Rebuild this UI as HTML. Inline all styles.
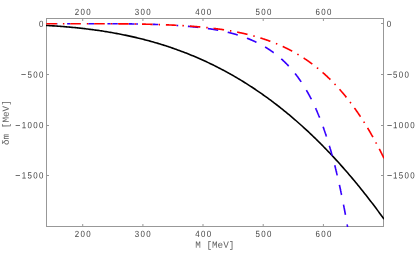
<!DOCTYPE html>
<html><head><meta charset="utf-8"><title>plot</title>
<style>
html,body{margin:0;padding:0;background:#fff;}
body{width:416px;height:257px;overflow:hidden;}
svg{display:block;}
text{font-family:"Liberation Sans",sans-serif;font-size:9px;fill:#464646;}
text.m{font-family:"Liberation Mono",monospace;font-size:9.33px;fill:#626262;}
</style></head><body>
<svg width="416" height="257" viewBox="0 0 416 257">

<g fill="#989898">
<rect x="82.20" y="19" width="1" height="2"/>
<rect x="82.20" y="224" width="1" height="2"/>
<rect x="142.40" y="19" width="1" height="2"/>
<rect x="142.40" y="224" width="1" height="2"/>
<rect x="202.50" y="19" width="1" height="2"/>
<rect x="202.50" y="224" width="1" height="2"/>
<rect x="262.70" y="19" width="1" height="2"/>
<rect x="262.70" y="224" width="1" height="2"/>
<rect x="322.90" y="19" width="1" height="2"/>
<rect x="322.90" y="224" width="1" height="2"/>
<rect x="47" y="23" width="2" height="1"/>
<rect x="381" y="23" width="2" height="1"/>
<rect x="47" y="74" width="2" height="1"/>
<rect x="381" y="74" width="2" height="1"/>
<rect x="47" y="125" width="2" height="1"/>
<rect x="381" y="125" width="2" height="1"/>
<rect x="47" y="175" width="2" height="1"/>
<rect x="381" y="175" width="2" height="1"/>
</g>
<g fill="#989898" shape-rendering="crispEdges">
<rect x="46" y="18" width="338" height="1"/>
<rect x="46" y="226" width="338" height="1"/>
<rect x="46" y="18" width="1" height="209"/>
<rect x="383" y="18" width="1" height="209"/>
</g>
<defs><filter id="gf" filterUnits="userSpaceOnUse" x="0" y="0" width="416" height="257"><feOffset dx="0" dy="0"/></filter><clipPath id="c"><rect x="46" y="18" width="338" height="209"/></clipPath></defs>
<g clip-path="url(#c)" fill="none">
<path d="M46.00 25.43 L47.13 25.49 L48.26 25.56 L49.39 25.62 L50.52 25.69 L51.65 25.76 L52.78 25.83 L53.91 25.90 L55.04 25.98 L56.17 26.06 L57.30 26.14 L58.43 26.22 L59.57 26.30 L60.70 26.38 L61.83 26.47 L62.96 26.56 L64.09 26.65 L65.22 26.74 L66.35 26.84 L67.48 26.93 L68.61 27.03 L69.74 27.13 L70.87 27.24 L72.00 27.34 L73.13 27.45 L74.26 27.56 L75.39 27.67 L76.52 27.78 L77.65 27.90 L78.78 28.02 L79.91 28.14 L81.04 28.26 L82.17 28.39 L83.30 28.52 L84.43 28.65 L85.57 28.78 L86.70 28.92 L87.83 29.05 L88.96 29.19 L90.09 29.34 L91.22 29.48 L92.35 29.63 L93.48 29.78 L94.61 29.93 L95.74 30.09 L96.87 30.25 L98.00 30.41 L99.13 30.57 L100.26 30.74 L101.39 30.91 L102.52 31.08 L103.65 31.26 L104.78 31.44 L105.91 31.62 L107.04 31.80 L108.17 31.99 L109.30 32.18 L110.43 32.37 L111.57 32.56 L112.70 32.76 L113.83 32.96 L114.96 33.17 L116.09 33.37 L117.22 33.59 L118.35 33.80 L119.48 34.02 L120.61 34.24 L121.74 34.46 L122.87 34.68 L124.00 34.91 L125.13 35.15 L126.26 35.38 L127.39 35.62 L128.52 35.86 L129.65 36.11 L130.78 36.36 L131.91 36.61 L133.04 36.87 L134.17 37.13 L135.30 37.39 L136.43 37.65 L137.57 37.92 L138.70 38.20 L139.83 38.47 L140.96 38.75 L142.09 39.04 L143.22 39.32 L144.35 39.61 L145.48 39.91 L146.61 40.21 L147.74 40.51 L148.87 40.81 L150.00 41.12 L151.13 41.44 L152.26 41.75 L153.39 42.07 L154.52 42.40 L155.65 42.73 L156.78 43.06 L157.91 43.39 L159.04 43.73 L160.17 44.08 L161.30 44.43 L162.43 44.78 L163.57 45.13 L164.70 45.49 L165.83 45.86 L166.96 46.22 L168.09 46.60 L169.22 46.97 L170.35 47.35 L171.48 47.74 L172.61 48.13 L173.74 48.52 L174.87 48.91 L176.00 49.32 L177.13 49.72 L178.26 50.13 L179.39 50.54 L180.52 50.96 L181.65 51.39 L182.78 51.81 L183.91 52.24 L185.04 52.68 L186.17 53.12 L187.30 53.57 L188.43 54.01 L189.57 54.47 L190.70 54.93 L191.83 55.39 L192.96 55.86 L194.09 56.33 L195.22 56.81 L196.35 57.29 L197.48 57.77 L198.61 58.26 L199.74 58.76 L200.87 59.26 L202.00 59.76 L203.13 60.27 L204.26 60.79 L205.39 61.31 L206.52 61.83 L207.65 62.36 L208.78 62.90 L209.91 63.43 L211.04 63.98 L212.17 64.53 L213.30 65.08 L214.43 65.64 L215.57 66.20 L216.70 66.77 L217.83 67.35 L218.96 67.92 L220.09 68.51 L221.22 69.10 L222.35 69.69 L223.48 70.29 L224.61 70.90 L225.74 71.51 L226.87 72.12 L228.00 72.74 L229.13 73.37 L230.26 74.00 L231.39 74.64 L232.52 75.28 L233.65 75.93 L234.78 76.58 L235.91 77.24 L237.04 77.90 L238.17 78.57 L239.30 79.25 L240.43 79.93 L241.57 80.61 L242.70 81.30 L243.83 82.00 L244.96 82.70 L246.09 83.41 L247.22 84.12 L248.35 84.84 L249.48 85.57 L250.61 86.30 L251.74 87.04 L252.87 87.78 L254.00 88.53 L255.13 89.28 L256.26 90.04 L257.39 90.81 L258.52 91.58 L259.65 92.36 L260.78 93.14 L261.91 93.93 L263.04 94.73 L264.17 95.53 L265.30 96.34 L266.43 97.15 L267.57 97.97 L268.70 98.79 L269.83 99.63 L270.96 100.46 L272.09 101.31 L273.22 102.16 L274.35 103.02 L275.48 103.88 L276.61 104.75 L277.74 105.62 L278.87 106.50 L280.00 107.39 L281.13 108.29 L282.26 109.19 L283.39 110.09 L284.52 111.01 L285.65 111.93 L286.78 112.85 L287.91 113.79 L289.04 114.73 L290.17 115.67 L291.30 116.62 L292.43 117.58 L293.57 118.55 L294.70 119.52 L295.83 120.50 L296.96 121.48 L298.09 122.48 L299.22 123.48 L300.35 124.48 L301.48 125.49 L302.61 126.51 L303.74 127.54 L304.87 128.57 L306.00 129.61 L307.13 130.66 L308.26 131.71 L309.39 132.77 L310.52 133.84 L311.65 134.91 L312.78 135.99 L313.91 137.08 L315.04 138.17 L316.17 139.28 L317.30 140.39 L318.43 141.50 L319.57 142.63 L320.70 143.76 L321.83 144.89 L322.96 146.04 L324.09 147.19 L325.22 148.35 L326.35 149.52 L327.48 150.69 L328.61 151.87 L329.74 153.06 L330.87 154.25 L332.00 155.46 L333.13 156.67 L334.26 157.88 L335.39 159.11 L336.52 160.34 L337.65 161.58 L338.78 162.83 L339.91 164.09 L341.04 165.35 L342.17 166.62 L343.30 167.90 L344.43 169.18 L345.57 170.47 L346.70 171.77 L347.83 173.08 L348.96 174.40 L350.09 175.72 L351.22 177.05 L352.35 178.39 L353.48 179.74 L354.61 181.09 L355.74 182.46 L356.87 183.83 L358.00 185.21 L359.13 186.59 L360.26 187.99 L361.39 189.39 L362.52 190.80 L363.65 192.22 L364.78 193.64 L365.91 195.08 L367.04 196.52 L368.17 197.97 L369.30 199.43 L370.43 200.89 L371.57 202.37 L372.70 203.85 L373.83 205.34 L374.96 206.84 L376.09 208.35 L377.22 209.86 L378.35 211.39 L379.48 212.92 L380.61 214.46 L381.74 216.01 L382.87 217.57 L384.00 219.13" stroke="#000" stroke-width="1.6"/>
<path d="M56.95 23.75 L57.17 23.75 L57.40 23.75 M67.14 23.74 L67.45 23.74 L67.76 23.74 L68.08 23.73 L68.39 23.73 L68.70 23.73 L69.01 23.73 L69.32 23.73 L69.64 23.73 L69.95 23.73 L70.26 23.73 M88.30 23.70 L88.63 23.70 L88.95 23.70 L89.28 23.70 L89.60 23.70 L89.93 23.70 L90.26 23.70 L90.58 23.70 L90.91 23.70 L91.23 23.70 L91.56 23.70 L91.89 23.70 L92.21 23.70 L92.54 23.70 L92.87 23.70 L93.19 23.70 L93.52 23.70 L93.84 23.70 L94.17 23.70 M107.42 23.73 L107.75 23.73 L108.08 23.73 L108.41 23.73 L108.74 23.73 L109.06 23.74 L109.39 23.74 L109.72 23.74 L110.05 23.74 L110.38 23.74 L110.71 23.74 M112.21 23.75 L112.54 23.75 L112.87 23.76 L113.20 23.76 L113.53 23.76 L113.86 23.76 L114.19 23.76 L114.52 23.77 L114.85 23.77 L115.18 23.77 L115.51 23.77 L115.84 23.77 L116.17 23.78 L116.50 23.78 L116.83 23.78 L117.16 23.78 L117.49 23.79 L117.82 23.79 M128.68 23.90 L129.01 23.90 L129.34 23.91 L129.67 23.91 L130.00 23.91 L130.33 23.92 L130.66 23.92 L130.99 23.93 L131.32 23.93 L131.65 23.94 L131.98 23.94 L132.31 23.95 L132.64 23.95 L132.97 23.96 L133.30 23.96 L133.63 23.97 L133.96 23.97 L134.29 23.98 L134.62 23.98 M136.12 24.00 L136.43 24.01 L136.73 24.02 L137.04 24.02 L137.34 24.03 L137.65 24.03 L137.96 24.04 M152.58 24.36 L152.91 24.37 L153.23 24.38 L153.56 24.39 L153.88 24.40 L154.20 24.41 L154.53 24.42 L154.85 24.43 L155.18 24.44 L155.50 24.45 L155.82 24.46 L156.15 24.47 L156.47 24.48 L156.80 24.49 L157.12 24.50 L157.44 24.51 L157.77 24.52 L158.09 24.53 M176.48 25.47 L176.76 25.49 L177.05 25.51 L177.34 25.53 L177.63 25.55 L177.92 25.57 L178.20 25.59 M187.91 26.34 L188.24 26.37 L188.56 26.40 L188.89 26.42 L189.21 26.45 L189.53 26.48 L189.86 26.51 L190.18 26.54 L190.50 26.57 L190.83 26.60 L191.15 26.63 L191.47 26.66 L191.80 26.69 L192.12 26.72 L192.45 26.75 L192.77 26.78 L193.09 26.81 L193.42 26.84 L193.74 26.87 L194.06 26.90 L194.39 26.94 L194.71 26.97 L195.03 27.00 L195.36 27.03 L195.68 27.07 L196.00 27.10 L196.33 27.13 L196.65 27.17 L196.97 27.20 L197.30 27.24 L197.62 27.27 L197.94 27.31 L198.26 27.34 M207.93 28.56 L208.25 28.60 L208.57 28.65 L208.89 28.70 L209.22 28.74 L209.54 28.79 L209.86 28.84 L210.18 28.89 L210.50 28.94 L210.82 28.99 L211.14 29.03 L211.46 29.08 L211.79 29.14 L212.11 29.19 L212.43 29.24 L212.75 29.29 L213.07 29.34 L213.39 29.39 L213.71 29.45 L214.03 29.50 L214.35 29.55 L214.67 29.61 L214.99 29.66 L215.31 29.72 L215.63 29.77 L215.95 29.83 L216.27 29.89 L216.59 29.94 L216.91 30.00 L217.23 30.06 L217.55 30.12 L217.87 30.18 L218.19 30.23 M227.72 32.25 L228.04 32.33 L228.35 32.40 L228.67 32.48 L228.98 32.56 L229.30 32.64 L229.61 32.71 L229.93 32.79 L230.24 32.87 L230.56 32.95 L230.87 33.04 L231.19 33.12 L231.50 33.20 L231.82 33.28 L232.13 33.37 L232.44 33.45 L232.76 33.54 L233.07 33.62 L233.38 33.71 L233.70 33.79 L234.01 33.88 L234.32 33.97 L234.64 34.06 L234.95 34.15 L235.26 34.24 L235.57 34.33 L235.89 34.42 L236.20 34.51 L236.51 34.60 L236.82 34.70 L237.13 34.79 L237.44 34.89 L237.75 34.98 M246.95 38.17 L247.26 38.29 L247.56 38.40 L247.86 38.52 L248.16 38.64 L248.47 38.76 L248.77 38.88 L249.07 39.01 L249.37 39.13 L249.67 39.25 L249.97 39.38 L250.27 39.50 L250.57 39.63 L250.87 39.76 L251.17 39.88 L251.47 40.01 L251.77 40.14 L252.06 40.27 L252.36 40.40 L252.66 40.53 L252.95 40.67 L253.25 40.80 L253.55 40.93 L253.84 41.07 L254.14 41.20 L254.43 41.34 L254.73 41.48 L255.02 41.62 L255.32 41.75 L255.61 41.89 L255.90 42.03 L256.20 42.18 L256.49 42.32 M265.05 46.95 L265.33 47.12 L265.61 47.29 L265.89 47.46 L266.16 47.63 L266.44 47.80 L266.72 47.97 L266.99 48.14 L267.27 48.31 L267.54 48.49 L267.81 48.66 L268.09 48.84 L268.36 49.01 L268.63 49.19 L268.91 49.37 L269.18 49.55 L269.45 49.73 L269.72 49.91 L269.99 50.09 L270.26 50.27 L270.53 50.45 L270.79 50.64 L271.06 50.82 L271.33 51.01 L271.59 51.19 L271.86 51.38 L272.13 51.57 L272.39 51.76 L272.65 51.95 L272.92 52.14 L273.18 52.33 L273.44 52.52 L273.70 52.71 M281.27 58.84 L281.51 59.06 L281.75 59.28 L282.00 59.49 L282.24 59.71 L282.48 59.93 L282.72 60.15 L282.95 60.37 L283.19 60.59 L283.43 60.81 L283.67 61.04 L283.90 61.26 L284.14 61.48 L284.37 61.71 L284.61 61.93 L284.84 62.16 L285.07 62.39 L285.31 62.61 L285.54 62.84 L285.77 63.07 L286.00 63.30 L286.23 63.53 L286.46 63.76 L286.69 63.99 L286.91 64.22 L287.14 64.46 L287.37 64.69 L287.59 64.92 L287.82 65.16 L288.04 65.39 L288.26 65.63 L288.49 65.87 L288.71 66.10 M295.06 73.49 L295.26 73.74 L295.46 74.00 L295.66 74.25 L295.86 74.51 L296.06 74.77 L296.26 75.02 L296.46 75.28 L296.65 75.54 L296.85 75.80 L297.04 76.06 L297.24 76.32 L297.43 76.58 L297.63 76.84 L297.82 77.10 L298.01 77.36 L298.21 77.63 L298.40 77.89 L298.59 78.15 L298.78 78.42 L298.97 78.68 L299.16 78.95 L299.34 79.21 L299.53 79.48 L299.72 79.74 L299.90 80.01 L300.09 80.27 L300.27 80.54 L300.46 80.81 L300.64 81.08 L300.83 81.35 L301.01 81.62 L301.19 81.88 M306.36 90.13 L306.53 90.41 L306.69 90.70 L306.85 90.98 L307.02 91.26 L307.18 91.54 L307.34 91.82 L307.50 92.11 L307.66 92.39 L307.82 92.67 L307.98 92.96 L308.14 93.24 L308.29 93.52 L308.45 93.81 L308.61 94.09 L308.76 94.38 L308.92 94.66 L309.08 94.95 L309.23 95.23 L309.38 95.52 L309.54 95.81 L309.69 96.09 L309.84 96.38 L310.00 96.67 L310.15 96.95 L310.30 97.24 L310.45 97.53 L310.60 97.82 L310.75 98.11 L310.90 98.40 L311.05 98.68 L311.20 98.97 L311.34 99.26 M315.55 108.05 L315.68 108.34 L315.82 108.64 L315.95 108.94 L316.08 109.23 L316.21 109.53 L316.35 109.83 L316.48 110.12 L316.61 110.42 L316.74 110.72 L316.87 111.02 L317.00 111.32 L317.13 111.61 L317.25 111.91 L317.38 112.21 L317.51 112.51 L317.64 112.81 L317.76 113.11 L317.89 113.41 L318.02 113.71 L318.14 114.01 L318.27 114.31 L318.39 114.61 L318.52 114.91 L318.64 115.21 L318.77 115.51 L318.89 115.81 L319.01 116.11 L319.14 116.41 L319.26 116.71 L319.38 117.01 L319.50 117.31 L319.62 117.62 M323.09 126.72 L323.20 127.02 L323.31 127.33 L323.42 127.63 L323.53 127.94 L323.64 128.25 L323.75 128.55 L323.86 128.86 L323.97 129.16 L324.08 129.47 L324.18 129.78 L324.29 130.08 L324.40 130.39 L324.50 130.70 L324.61 131.01 L324.72 131.31 L324.82 131.62 L324.93 131.93 L325.03 132.23 L325.14 132.54 L325.24 132.85 L325.35 133.16 L325.45 133.47 L325.56 133.77 L325.66 134.08 L325.76 134.39 L325.87 134.70 L325.97 135.01 L326.07 135.31 L326.17 135.62 L326.28 135.93 L326.38 136.24 L326.48 136.55 M329.39 145.84 L329.49 146.15 L329.58 146.47 L329.67 146.78 L329.76 147.09 L329.86 147.40 L329.95 147.71 L330.04 148.02 L330.13 148.33 L330.22 148.65 L330.32 148.96 L330.41 149.27 L330.50 149.58 L330.59 149.89 L330.68 150.21 L330.77 150.52 L330.86 150.83 L330.95 151.14 L331.04 151.46 L331.13 151.77 L331.22 152.08 L331.30 152.39 L331.39 152.71 L331.48 153.02 L331.57 153.33 L331.66 153.65 L331.74 153.96 L331.83 154.27 L331.92 154.58 L332.01 154.90 L332.09 155.21 L332.18 155.52 L332.27 155.84 M334.76 165.25 L334.84 165.57 L334.92 165.88 L335.00 166.20 L335.08 166.51 L335.16 166.83 L335.24 167.14 L335.32 167.46 L335.40 167.77 L335.48 168.09 L335.56 168.40 L335.63 168.72 L335.71 169.03 L335.79 169.35 L335.87 169.67 L335.95 169.98 L336.02 170.30 L336.10 170.61 L336.18 170.93 L336.26 171.24 L336.33 171.56 L336.41 171.88 L336.49 172.19 L336.56 172.51 L336.64 172.82 L336.71 173.14 L336.79 173.46 L336.87 173.77 L336.94 174.09 L337.02 174.40 L337.09 174.72 L337.17 175.04 L337.24 175.35 M339.41 184.85 L339.48 185.16 L339.55 185.48 L339.62 185.80 L339.69 186.12 L339.76 186.43 L339.83 186.75 L339.90 187.07 L339.97 187.39 L340.04 187.70 L340.11 188.02 L340.18 188.34 L340.25 188.66 L340.32 188.97 L340.38 189.29 L340.45 189.61 L340.52 189.93 L340.59 190.25 L340.66 190.56 L340.72 190.88 L340.79 191.20 L340.86 191.52 L340.93 191.84 L340.99 192.15 L341.06 192.47 L341.13 192.79 L341.19 193.11 L341.26 193.43 L341.33 193.74 L341.39 194.06 L341.46 194.38 L341.52 194.70 L341.59 195.02 M343.51 204.57 L343.57 204.88 L343.63 205.20 L343.70 205.52 L343.76 205.84 L343.82 206.16 L343.88 206.48 L343.94 206.80 L344.00 207.12 L344.06 207.44 L344.13 207.76 L344.19 208.08 L344.25 208.39 L344.31 208.71 L344.37 209.03 L344.43 209.35 L344.49 209.67 L344.55 209.99 L344.61 210.31 L344.67 210.63 L344.73 210.95 L344.79 211.27 L344.85 211.59 L344.91 211.91 L344.97 212.23 L345.03 212.55 L345.09 212.87 L345.15 213.19 L345.21 213.51 L345.27 213.83 L345.33 214.14 L345.38 214.46 L345.44 214.78 M347.16 224.37 L347.21 224.69 L347.27 225.01 L347.33 225.33 L347.38 225.65 L347.44 225.97 L347.49 226.29 L347.55 226.61 L347.60 226.93 L347.66 227.25 L347.71 227.57 L347.77 227.89 L347.82 228.21 L347.88 228.54 L347.93 228.86 L347.99 229.18 L348.04 229.50 L348.09 229.82 L348.15 230.14 L348.20 230.46 L348.26 230.78 L348.31 231.10 L348.36 231.42 L348.42 231.74 L348.47 232.06 L348.53 232.38 L348.58 232.70 L348.63 233.02 L348.69 233.34 L348.74 233.66 L348.79 233.98 L348.84 234.30 L348.90 234.63 M350.45 244.24 L350.50 244.56 L350.55 244.88 L350.60 245.20 L350.65 245.53 L350.70 245.85 L350.75 246.17 L350.80 246.49 L350.85 246.81 L350.90 247.13 L350.95 247.45 L351.00 247.77 L351.05 248.09 L351.10 248.42 L351.15 248.74 L351.20 249.06 L351.25 249.38 L351.30 249.70 L351.34 250.02 L351.39 250.34 L351.44 250.66 L351.49 250.99 L351.54 251.31 L351.59 251.63 L351.64 251.95 L351.69 252.27 L351.74 252.59 L351.78 252.91 L351.83 253.23 L351.88 253.56 L351.93 253.88 L351.98 254.20 L352.03 254.52 M353.44 264.16 L353.48 264.48 L353.53 264.80 L353.58 265.12 L353.62 265.44 L353.67 265.77 L353.71 266.09 L353.76 266.41 L353.81 266.73 L353.85 267.05 L353.90 267.38 L353.94 267.70 L353.99 268.02 L354.03 268.34 L354.08 268.66 L354.12 268.98 L354.17 269.31 L354.21 269.63 L354.26 269.95 L354.30 270.27 L354.35 270.59 L354.39 270.92 L354.44 271.24 L354.48 271.56 L354.53 271.88 L354.57 272.20 L354.62 272.53 L354.66 272.85 L354.71 273.17 L354.75 273.49 L354.79 273.81 L354.84 274.13 L354.88 274.46 M356.18 284.11 L356.22 284.43 L356.26 284.75 L356.31 285.08 L356.35 285.40 L356.39 285.72 L356.43 286.04 L356.48 286.37 L356.52 286.69 L356.56 287.01 L356.60 287.33 L356.64 287.65 L356.69 287.98 L356.73 288.30 L356.77 288.62 L356.81 288.94 L356.85 289.27 L356.89 289.59 L356.93 289.91 L356.98 290.23 L357.02 290.56 L357.06 290.88 L357.10 291.20 L357.14 291.52 L357.18 291.85 L357.22 292.17 L357.27 292.49 L357.31 292.81 L357.35 293.13 L357.39 293.46 L357.43 293.78 L357.47 294.10 L357.51 294.42 M358.71 304.09 L358.75 304.41 L358.79 304.74 L358.83 305.06 L358.87 305.38 L358.91 305.70 L358.94 306.03 L358.98 306.35 L359.02 306.67 L359.06 306.99 L359.10 307.32 L359.14 307.64 L359.18 307.96 L359.22 308.28 L359.25 308.61 L359.29 308.93 L359.33 309.25 L359.37 309.58 L359.41 309.90 L359.45 310.22 L359.49 310.54 L359.52 310.87 L359.56 311.19 L359.60 311.51 L359.64 311.83 L359.68 312.16 L359.72 312.48 L359.75 312.80 L359.79 313.13 L359.83 313.45 L359.87 313.77 L359.91 314.09 L359.94 314.42 M361.06 324.09 L361.09 324.42 L361.13 324.74 L361.17 325.06 L361.20 325.38 L361.24 325.71 L361.28 326.03 L361.31 326.35 L361.35 326.68 L361.39 327.00 L361.42 327.32 L361.46 327.65 L361.49 327.97 L361.53 328.29 L361.57 328.61 L361.60 328.94 L361.64 329.26 L361.67 329.58 L361.71 329.91 L361.75 330.23 L361.78 330.55 L361.82 330.88 L361.85 331.20 L361.89 331.52 L361.92 331.84 L361.96 332.17 L361.99 332.49 L362.03 332.81 L362.07 333.14 L362.10 333.46 L362.14 333.78 L362.17 334.11 L362.21 334.43 M363.25 344.11 L363.28 344.44 L363.32 344.76 L363.35 345.08 L363.38 345.41 L363.42 345.73 L363.45 346.05 L363.49 346.38 L363.52 346.70 L363.55 347.02 L363.59 347.35 L363.62 347.67 L363.66 347.99 L363.69 348.32 L363.72 348.64 L363.76 348.96 L363.79 349.29 L363.82 349.61 L363.86 349.93 L363.89 350.25 L363.93 350.58 L363.96 350.90 L363.99 351.22 L364.03 351.55 L364.06 351.87 L364.09 352.19 L364.13 352.52 L364.16 352.84 L364.19 353.16 L364.23 353.49 L364.26 353.81 L364.29 354.13 L364.32 354.46 M365.30 364.15 L365.33 364.47 L365.37 364.80 L365.40 365.12 L365.43 365.44 L365.46 365.77 L365.49 366.09 L365.53 366.41 L365.56 366.74 L365.59 367.06 L365.62 367.38 L365.65 367.71 L365.68 368.03 L365.72 368.35 L365.75 368.68 L365.78 369.00 L365.81 369.32 L365.84 369.65 L365.87 369.97 L365.91 370.29 L365.94 370.62 L365.97 370.94 L366.00 371.26 L366.03 371.59 L366.06 371.91 L366.09 372.23 L366.13 372.56 L366.16 372.88 L366.19 373.21 L366.22 373.53 L366.25 373.85 L366.28 374.18 L366.31 374.50 M367.23 384.20 L367.26 384.52 L367.29 384.84 L367.32 385.17 L367.35 385.49 L367.38 385.81 L367.41 386.14 L367.44 386.46 L367.47 386.78 L367.50 387.11 L367.53 387.43 L367.56 387.76 L367.59 388.08 L367.62 388.40 L367.65 388.73 L367.68 389.05 L367.71 389.37 L367.74 389.70 L367.77 390.02 L367.80 390.34 L367.83 390.67 L367.86 390.99 L367.89 391.32 L367.92 391.64 L367.95 391.96 L367.98 392.29 L368.01 392.61 L368.04 392.93 L368.07 393.26 L368.10 393.58 L368.13 393.90 L368.16 394.23 L368.19 394.55 M369.06 404.25 L369.09 404.58 L369.12 404.90 L369.14 405.22 L369.17 405.55 L369.20 405.87 L369.23 406.20 L369.26 406.52 L369.29 406.84 L369.31 407.17 L369.34 407.49 L369.37 407.81 L369.40 408.14 L369.43 408.46 L369.46 408.79 L369.48 409.11 L369.51 409.43 L369.54 409.76 L369.57 410.08 L369.60 410.40 L369.63 410.73 L369.65 411.05 L369.68 411.38 L369.71 411.70 L369.74 412.02 L369.77 412.35 L369.79 412.67 L369.82 412.99 L369.85 413.32 L369.88 413.64 L369.91 413.97 L369.93 414.29 L369.96 414.61 M370.79 424.32 L370.81 424.64 L370.84 424.97 L370.87 425.29 L370.89 425.61 L370.92 425.94 L370.95 426.26 L370.98 426.59 L371.00 426.91 L371.03 427.23 L371.06 427.56 L371.08 427.88 L371.11 428.20 L371.14 428.53 L371.16 428.85 L371.19 429.18 L371.22 429.50 L371.24 429.82 L371.27 430.15 L371.30 430.47 L371.32 430.80 L371.35 431.12 L371.38 431.44 L371.40 431.77 L371.43 432.09 L371.46 432.42 L371.48 432.74 L371.51 433.06 L371.54 433.39 L371.56 433.71 L371.59 434.04 L371.62 434.36 L371.64 434.68 M372.43 444.39 L372.45 444.72 L372.48 445.04 L372.51 445.36 L372.53 445.69 L372.56 446.01 L372.58 446.34 L372.61 446.66 L372.63 446.98 L372.66 447.31 L372.69 447.63 L372.71 447.96 L372.74 448.28 L372.76 448.60 L372.79 448.93 L372.81 449.25 L372.84 449.58 L372.86 449.90 L372.89 450.22 L372.92 450.55 L372.94 450.87 L372.97 451.20 L372.99 451.52 L373.02 451.84 L373.04 452.17 L373.07 452.49 L373.09 452.82 L373.12 453.14 L373.14 453.46 L373.17 453.79 L373.19 454.11 L373.22 454.44 L373.24 454.76 M373.99 464.47 L374.02 464.79 L374.04 465.12 L374.07 465.44 L374.09 465.77 L374.11 466.09 L374.14 466.42 L374.16 466.74 L374.19 467.06 L374.21 467.39 L374.24 467.71 L374.26 468.04 L374.29 468.36 L374.31 468.68 L374.33 469.01 L374.36 469.33 L374.38 469.66 L374.41 469.98 L374.43 470.30 L374.46 470.63 L374.48 470.95 L374.50 471.28 L374.53 471.60 L374.55 471.92 L374.58 472.25 L374.60 472.57 L374.63 472.90 L374.65 473.22 L374.67 473.54 L374.70 473.87 L374.72 474.19 L374.75 474.52 L374.77 474.84 M375.48 484.56 L375.51 484.88 L375.53 485.20 L375.55 485.53 L375.58 485.85 L375.60 486.18 L375.63 486.50 L375.65 486.82 L375.67 487.15 L375.70 487.47 L375.72 487.80 L375.74 488.12 L375.77 488.45 L375.79 488.77 L375.81 489.09 L375.84 489.42 L375.86 489.74 L375.88 490.07 L375.91 490.39 L375.93 490.71 L375.95 491.04 L375.98 491.36 L376.00 491.69 L376.02 492.01 L376.04 492.34 L376.07 492.66 L376.09 492.98 L376.11 493.31 L376.14 493.63 L376.16 493.96 L376.18 494.28 L376.21 494.60 L376.23 494.93 M376.91 504.64 L376.93 504.97 L376.96 505.29 L376.98 505.62 L377.00 505.94 L377.03 506.27 L377.05 506.59 L377.07 506.91 L377.09 507.24 L377.11 507.56 L377.14 507.89 L377.16 508.21 L377.18 508.54 L377.20 508.86 L377.23 509.18 L377.25 509.51 L377.27 509.83 L377.29 510.16 L377.32 510.48 L377.34 510.80 L377.36 511.13 L377.38 511.45 L377.40 511.78 L377.43 512.10 L377.45 512.43 L377.47 512.75 L377.49 513.07 L377.52 513.40 L377.54 513.72 L377.56 514.05 L377.58 514.37 L377.60 514.70 L377.63 515.02 M378.28 524.74 L378.30 525.06 L378.32 525.39 L378.35 525.71 L378.37 526.04 L378.39 526.36 L378.41 526.68 L378.43 527.01 L378.45 527.33 L378.48 527.66 L378.50 527.98 L378.52 528.31 L378.54 528.63 L378.56 528.95 L378.58 529.28 L378.60 529.60 L378.63 529.93 L378.65 530.25 L378.67 530.58 L378.69 530.90 L378.71 531.22 L378.73 531.55 L378.75 531.87 L378.78 532.20 L378.80 532.52 L378.82 532.85 L378.84 533.17 L378.86 533.49 L378.88 533.82 L378.90 534.14 L378.92 534.47 L378.95 534.79 L378.97 535.12 M379.60 544.83 L379.62 545.16 L379.64 545.48 L379.66 545.81 L379.68 546.13 L379.70 546.46 L379.72 546.78 L379.74 547.11 L379.76 547.43 L379.78 547.75 L379.80 548.08 L379.82 548.40 L379.84 548.73 L379.87 549.05 L379.89 549.38 L379.91 549.70 L379.93 550.02 L379.95 550.35 L379.97 550.67 L379.99 551.00 L380.01 551.32 L380.03 551.65 L380.05 551.97 L380.07 552.29 L380.09 552.62 L380.11 552.94 L380.13 553.27 L380.15 553.59 L380.17 553.92 L380.19 554.24 L380.21 554.57 L380.23 554.89 L380.26 555.21 M380.86 564.94 L380.88 565.26 L380.90 565.58 L380.92 565.91 L380.94 566.23 L380.96 566.56 L380.98 566.88 L381.00 567.21 L381.02 567.53 L381.04 567.85 L381.06 568.18 L381.08 568.50 L381.10 568.83 L381.12 569.15 L381.14 569.48 L381.16 569.80 L381.18 570.13 L381.20 570.45 L381.22 570.77 L381.24 571.10 L381.26 571.42 L381.28 571.75 L381.30 572.07 L381.32 572.40 L381.34 572.72 L381.36 573.04 L381.38 573.37 L381.40 573.69 L381.42 574.02 L381.44 574.34 L381.46 574.67 L381.48 574.99 L381.50 575.32 M382.08 585.04 L382.10 585.36 L382.12 585.69 L382.14 586.01 L382.16 586.34 L382.18 586.66 L382.19 586.98 L382.21 587.31 L382.23 587.63 L382.25 587.96 L382.27 588.28 L382.29 588.61 L382.31 588.93 L382.33 589.26 L382.35 589.58 L382.37 589.90 L382.39 590.23 L382.41 590.55 L382.43 590.88 L382.44 591.20 L382.46 591.53 L382.48 591.85 L382.50 592.18 L382.52 592.50 L382.54 592.82 L382.56 593.15 L382.58 593.47 L382.60 593.80 L382.62 594.12 L382.63 594.45 L382.65 594.77 L382.67 595.10 L382.69 595.42 M383.25 605.14 L383.27 605.47 L383.29 605.79 L383.31 606.12 L383.33 606.44 L383.35 606.77 L383.37 607.09 L383.38 607.42 L383.40 607.74 L383.42 608.06 L383.44 608.39 L383.46 608.71 L383.48 609.04 L383.50 609.36 L383.51 609.69 L383.53 610.01 L383.55 610.34 L383.57 610.66 L383.59 610.98 L383.61 611.31 L383.63 611.63 L383.64 611.96 L383.66 612.28 L383.68 612.61 L383.70 612.93 L383.72 613.26 L383.74 613.58 L383.75 613.90 L383.77 614.23 L383.79 614.55 L383.81 614.88 L383.83 615.20 L383.85 615.53" stroke="#3600ff" stroke-width="1.65"/>
<path d="M46.35 23.75 L46.68 23.76 L47.01 23.76 L47.34 23.76 L47.67 23.76 L48.01 23.76 L48.34 23.76 L48.67 23.76 L49.00 23.76 L49.33 23.76 L49.66 23.76 L49.99 23.76 L50.32 23.76 L50.66 23.76 L50.99 23.76 L51.32 23.76 L51.65 23.76 L51.98 23.76 L52.31 23.76 L52.64 23.76 L52.97 23.76 L53.31 23.76 L53.64 23.76 L53.97 23.76 L54.30 23.76 L54.63 23.76 L54.96 23.76 L55.29 23.76 L55.62 23.76 L55.96 23.76 L56.29 23.75 L56.62 23.75 L56.95 23.75 M62.89 23.74 L63.19 23.74 L63.49 23.74 L63.79 23.74 L64.09 23.74 L64.39 23.74 M70.26 23.73 L70.59 23.73 L70.92 23.73 L71.25 23.73 L71.58 23.73 L71.92 23.73 L72.25 23.73 L72.58 23.72 L72.91 23.72 L73.24 23.72 L73.57 23.72 L73.90 23.72 L74.23 23.72 L74.57 23.72 L74.90 23.72 L75.23 23.72 L75.56 23.72 L75.89 23.72 L76.22 23.72 L76.55 23.72 L76.88 23.72 L77.22 23.72 L77.55 23.72 L77.88 23.71 L78.21 23.71 L78.54 23.71 L78.87 23.71 L79.20 23.71 L79.53 23.71 L79.87 23.71 L80.20 23.71 L80.53 23.71 L80.86 23.71 M86.80 23.70 L87.10 23.70 L87.40 23.70 L87.70 23.70 L88.00 23.70 L88.30 23.70 M94.17 23.70 L94.50 23.70 L94.83 23.70 L95.16 23.70 L95.49 23.70 L95.83 23.70 L96.16 23.70 L96.49 23.70 L96.82 23.70 L97.15 23.70 L97.48 23.70 L97.81 23.70 L98.14 23.70 L98.48 23.71 L98.81 23.71 L99.14 23.71 L99.47 23.71 L99.80 23.71 L100.13 23.71 L100.46 23.71 L100.79 23.71 L101.13 23.71 L101.46 23.71 L101.79 23.71 L102.12 23.71 L102.45 23.71 L102.78 23.71 L103.11 23.71 L103.44 23.72 L103.78 23.72 L104.11 23.72 L104.44 23.72 L104.77 23.72 M110.71 23.74 L111.01 23.75 L111.31 23.75 L111.61 23.75 L111.91 23.75 L112.21 23.75 M118.08 23.79 L118.41 23.79 L118.74 23.80 L119.07 23.80 L119.40 23.80 L119.74 23.80 L120.07 23.81 L120.40 23.81 L120.73 23.81 L121.06 23.82 L121.39 23.82 L121.72 23.82 L122.05 23.83 L122.39 23.83 L122.72 23.83 L123.05 23.83 L123.38 23.84 L123.71 23.84 L124.04 23.84 L124.37 23.85 L124.70 23.85 L125.04 23.86 L125.37 23.86 L125.70 23.86 L126.03 23.87 L126.36 23.87 L126.69 23.87 L127.02 23.88 L127.35 23.88 L127.69 23.89 L128.02 23.89 L128.35 23.89 L128.68 23.90 M134.62 23.98 L134.92 23.99 L135.22 23.99 L135.52 24.00 L135.82 24.00 L136.12 24.00 M141.99 24.11 L142.32 24.12 L142.65 24.13 L142.98 24.13 L143.31 24.14 L143.64 24.15 L143.97 24.15 L144.31 24.16 L144.64 24.17 L144.97 24.17 L145.30 24.18 L145.63 24.19 L145.96 24.20 L146.29 24.20 L146.62 24.21 L146.96 24.22 L147.29 24.23 L147.62 24.24 L147.95 24.24 L148.28 24.25 L148.61 24.26 L148.94 24.27 L149.27 24.28 L149.60 24.28 L149.94 24.29 L150.27 24.30 L150.60 24.31 L150.93 24.32 L151.26 24.33 L151.59 24.34 L151.92 24.35 L152.25 24.35 L152.58 24.36 M158.52 24.54 L158.82 24.55 L159.12 24.56 L159.42 24.57 L159.72 24.58 L160.02 24.59 M165.89 24.81 L166.22 24.82 L166.55 24.84 L166.88 24.85 L167.21 24.86 L167.54 24.88 L167.87 24.89 L168.20 24.91 L168.53 24.92 L168.87 24.93 L169.20 24.95 L169.53 24.96 L169.86 24.98 L170.19 24.99 L170.52 25.01 L170.85 25.02 L171.18 25.04 L171.51 25.05 L171.84 25.07 L172.17 25.08 L172.51 25.10 L172.84 25.11 L173.17 25.13 L173.50 25.15 L173.83 25.16 L174.16 25.18 L174.49 25.19 L174.82 25.21 L175.15 25.23 L175.48 25.24 L175.81 25.26 L176.14 25.28 L176.48 25.30 M182.41 25.63 L182.71 25.65 L183.01 25.67 L183.30 25.68 L183.60 25.70 L183.90 25.72 M189.76 26.11 L190.09 26.14 L190.42 26.16 L190.75 26.19 L191.08 26.21 L191.41 26.24 L191.74 26.26 L192.07 26.29 L192.40 26.31 L192.73 26.34 L193.06 26.36 L193.39 26.39 L193.72 26.41 L194.05 26.44 L194.38 26.47 L194.71 26.49 L195.04 26.52 L195.37 26.55 L195.71 26.57 L196.04 26.60 L196.37 26.63 L196.70 26.65 L197.03 26.68 L197.36 26.71 L197.69 26.74 L198.02 26.77 L198.35 26.80 L198.68 26.83 L199.01 26.85 L199.34 26.88 L199.67 26.91 L200.00 26.94 L200.33 26.97 M206.24 27.55 L206.54 27.58 L206.83 27.61 L207.13 27.65 L207.43 27.68 L207.73 27.71 M213.56 28.38 L213.89 28.42 L214.22 28.46 L214.55 28.50 L214.88 28.54 L215.20 28.58 L215.53 28.63 L215.86 28.67 L216.19 28.71 L216.52 28.75 L216.85 28.80 L217.17 28.84 L217.50 28.88 L217.83 28.93 L218.16 28.97 L218.49 29.02 L218.82 29.06 L219.14 29.10 L219.47 29.15 L219.80 29.20 L220.13 29.24 L220.46 29.29 L220.78 29.33 L221.11 29.38 L221.44 29.43 L221.77 29.48 L222.10 29.52 L222.42 29.57 L222.75 29.62 L223.08 29.67 L223.41 29.72 L223.73 29.77 L224.06 29.82 M229.93 30.77 L230.22 30.82 L230.52 30.87 L230.81 30.92 L231.11 30.97 L231.40 31.03 M237.17 32.11 L237.50 32.17 L237.82 32.24 L238.15 32.30 L238.47 32.37 L238.80 32.44 L239.12 32.50 L239.44 32.57 L239.77 32.64 L240.09 32.71 L240.42 32.77 L240.74 32.84 L241.06 32.91 L241.39 32.98 L241.71 33.05 L242.04 33.12 L242.36 33.19 L242.68 33.27 L243.01 33.34 L243.33 33.41 L243.65 33.48 L243.98 33.56 L244.30 33.63 L244.62 33.70 L244.94 33.78 L245.27 33.85 L245.59 33.93 L245.91 34.00 L246.23 34.08 L246.56 34.16 L246.88 34.23 L247.20 34.31 L247.52 34.39 M253.28 35.87 L253.56 35.95 L253.85 36.03 L254.14 36.11 L254.43 36.19 L254.72 36.27 M260.35 37.92 L260.67 38.02 L260.99 38.12 L261.30 38.22 L261.62 38.32 L261.93 38.42 L262.25 38.52 L262.56 38.62 L262.88 38.72 L263.19 38.83 L263.51 38.93 L263.82 39.03 L264.14 39.14 L264.45 39.24 L264.77 39.35 L265.08 39.45 L265.39 39.56 L265.71 39.67 L266.02 39.77 L266.33 39.88 L266.65 39.99 L266.96 40.10 L267.27 40.21 L267.59 40.32 L267.90 40.43 L268.21 40.54 L268.52 40.65 L268.83 40.76 L269.14 40.88 L269.46 40.99 L269.77 41.10 L270.08 41.22 L270.39 41.33 M275.92 43.49 L276.20 43.61 L276.48 43.72 L276.75 43.83 L277.03 43.95 L277.31 44.07 M282.68 46.43 L282.98 46.57 L283.28 46.71 L283.58 46.85 L283.88 46.99 L284.18 47.13 L284.48 47.27 L284.78 47.41 L285.08 47.56 L285.38 47.70 L285.68 47.84 L285.97 47.99 L286.27 48.13 L286.57 48.28 L286.87 48.43 L287.16 48.57 L287.46 48.72 L287.76 48.87 L288.05 49.02 L288.35 49.17 L288.64 49.32 L288.94 49.47 L289.23 49.62 L289.53 49.77 L289.82 49.92 L290.11 50.08 L290.41 50.23 L290.70 50.39 L290.99 50.54 L291.29 50.70 L291.58 50.85 L291.87 51.01 L292.16 51.17 M297.33 54.08 L297.59 54.24 L297.85 54.39 L298.11 54.54 L298.37 54.70 L298.62 54.85 M303.60 57.97 L303.88 58.15 L304.15 58.33 L304.43 58.51 L304.71 58.69 L304.98 58.88 L305.26 59.06 L305.53 59.25 L305.81 59.43 L306.08 59.62 L306.36 59.80 L306.63 59.99 L306.90 60.18 L307.17 60.36 L307.45 60.55 L307.72 60.74 L307.99 60.93 L308.26 61.12 L308.53 61.31 L308.80 61.50 L309.07 61.69 L309.34 61.89 L309.61 62.08 L309.88 62.27 L310.15 62.47 L310.42 62.66 L310.69 62.86 L310.95 63.05 L311.22 63.25 L311.49 63.44 L311.75 63.64 L312.02 63.84 L312.29 64.04 M316.98 67.68 L317.21 67.87 L317.45 68.05 L317.68 68.24 L317.91 68.43 L318.14 68.62 M322.62 72.42 L322.87 72.64 L323.12 72.86 L323.37 73.07 L323.61 73.29 L323.86 73.52 L324.11 73.74 L324.36 73.96 L324.60 74.18 L324.85 74.40 L325.09 74.62 L325.34 74.85 L325.58 75.07 L325.83 75.30 L326.07 75.52 L326.31 75.74 L326.55 75.97 L326.80 76.20 L327.04 76.42 L327.28 76.65 L327.52 76.88 L327.76 77.10 L328.00 77.33 L328.24 77.56 L328.48 77.79 L328.72 78.02 L328.96 78.25 L329.20 78.48 L329.44 78.71 L329.67 78.94 L329.91 79.17 L330.15 79.40 L330.38 79.63 M334.55 83.87 L334.76 84.08 L334.96 84.30 L335.17 84.52 L335.38 84.74 L335.58 84.96 M339.54 89.29 L339.76 89.54 L339.98 89.78 L340.20 90.03 L340.42 90.28 L340.64 90.53 L340.86 90.78 L341.07 91.03 L341.29 91.28 L341.51 91.53 L341.72 91.78 L341.94 92.03 L342.16 92.28 L342.37 92.53 L342.59 92.79 L342.80 93.04 L343.01 93.29 L343.23 93.55 L343.44 93.80 L343.65 94.05 L343.87 94.31 L344.08 94.56 L344.29 94.82 L344.50 95.07 L344.71 95.33 L344.92 95.58 L345.13 95.84 L345.34 96.09 L345.55 96.35 L345.76 96.61 L345.97 96.86 L346.18 97.12 L346.39 97.38 M350.06 102.05 L350.24 102.29 L350.42 102.53 L350.60 102.77 L350.79 103.01 L350.97 103.24 M354.45 107.97 L354.64 108.24 L354.84 108.51 L355.03 108.78 L355.22 109.04 L355.42 109.31 L355.61 109.58 L355.80 109.85 L355.99 110.13 L356.18 110.40 L356.37 110.67 L356.56 110.94 L356.75 111.21 L356.94 111.48 L357.13 111.75 L357.32 112.03 L357.51 112.30 L357.69 112.57 L357.88 112.84 L358.07 113.12 L358.26 113.39 L358.44 113.66 L358.63 113.94 L358.82 114.21 L359.00 114.49 L359.19 114.76 L359.37 115.03 L359.56 115.31 L359.74 115.58 L359.93 115.86 L360.11 116.14 L360.29 116.41 L360.48 116.69 M363.71 121.67 L363.87 121.92 L364.03 122.18 L364.19 122.43 L364.35 122.68 L364.51 122.94 M367.59 127.94 L367.76 128.22 L367.93 128.50 L368.10 128.79 L368.27 129.07 L368.44 129.36 L368.61 129.64 L368.78 129.93 L368.95 130.21 L369.12 130.50 L369.29 130.78 L369.46 131.07 L369.62 131.35 L369.79 131.64 L369.96 131.92 L370.13 132.21 L370.29 132.50 L370.46 132.78 L370.63 133.07 L370.79 133.35 L370.96 133.64 L371.12 133.93 L371.29 134.22 L371.45 134.50 L371.62 134.79 L371.78 135.08 L371.95 135.37 L372.11 135.65 L372.27 135.94 L372.44 136.23 L372.60 136.52 L372.76 136.81 L372.92 137.10 M375.80 142.30 L375.94 142.56 L376.08 142.82 L376.22 143.09 L376.37 143.35 L376.51 143.62 M379.25 148.81 L379.40 149.10 L379.55 149.40 L379.70 149.69 L379.85 149.98 L380.00 150.28 L380.15 150.57 L380.31 150.87 L380.46 151.16 L380.61 151.46 L380.76 151.75 L380.91 152.05 L381.06 152.34 L381.20 152.64 L381.35 152.93 L381.50 153.23 L381.65 153.52 L381.80 153.82 L381.95 154.11 L382.10 154.41 L382.24 154.71 L382.39 155.00 L382.54 155.30 L382.69 155.60 L382.83 155.89 L382.98 156.19 L383.13 156.48 L383.27 156.78 L383.42 157.08 L383.56 157.38 L383.71 157.67 L383.85 157.97 L384.00 158.27" stroke="#ff0000" stroke-width="1.65"/>
</g>
<g filter="url(#gf)" style="text-rendering:geometricPrecision">
<text transform="translate(74.85 15.10) rotate(0.05) scale(0.88 1)" x="0.00 6.53 13.07" y="0.00 0.00 0.00">200</text>
<text transform="translate(74.85 236.90) rotate(0.05) scale(0.88 1)" x="0.00 6.53 13.07" y="0.00 0.00 0.00">200</text>
<text transform="translate(134.85 15.10) rotate(0.05) scale(0.88 1)" x="0.00 6.53 13.07" y="0.00 0.00 0.00">300</text>
<text transform="translate(134.85 236.90) rotate(0.05) scale(0.88 1)" x="0.00 6.53 13.07" y="0.00 0.00 0.00">300</text>
<text transform="translate(195.20 15.10) rotate(0.05) scale(0.88 1)" x="0.00 6.53 13.07" y="0.00 0.00 0.00">400</text>
<text transform="translate(195.20 236.90) rotate(0.05) scale(0.88 1)" x="0.00 6.53 13.07" y="0.00 0.00 0.00">400</text>
<text transform="translate(255.40 15.10) rotate(0.05) scale(0.88 1)" x="0.00 6.53 13.07" y="0.00 0.00 0.00">500</text>
<text transform="translate(255.40 236.90) rotate(0.05) scale(0.88 1)" x="0.00 6.53 13.07" y="0.00 0.00 0.00">500</text>
<text transform="translate(315.60 15.10) rotate(0.05) scale(0.88 1)" x="0.00 6.53 13.07" y="0.00 0.00 0.00">600</text>
<text transform="translate(315.60 236.90) rotate(0.05) scale(0.88 1)" x="0.00 6.53 13.07" y="0.00 0.00 0.00">600</text>
<text transform="translate(39.05 27.10) rotate(0.05) scale(0.88 1)" x="0.00" y="0.00">0</text>
<text transform="translate(386.85 27.10) rotate(0.05) scale(0.88 1)" x="0.00" y="0.00">0</text>
<text transform="translate(21.50 77.70) rotate(0.05) scale(0.88 1)" x="-0.40 6.88 13.41 19.94" y="-0.21 0.00 0.00 0.00"><tspan stroke="#464646" stroke-width="0.3">−</tspan>500</text>
<text transform="translate(386.85 77.70) rotate(0.05) scale(0.88 1)" x="0.51 6.88 13.41 19.94" y="-0.21 0.00 0.00 0.00"><tspan stroke="#464646" stroke-width="0.3">−</tspan>500</text>
<text transform="translate(15.75 128.30) rotate(0.05) scale(0.88 1)" x="-0.40 6.88 13.41 19.94 26.48" y="0.19 0.00 0.00 0.00 0.00"><tspan stroke="#464646" stroke-width="0.3">−</tspan>1000</text>
<text transform="translate(386.85 128.30) rotate(0.05) scale(0.88 1)" x="0.51 6.88 13.41 19.94 26.48" y="0.19 0.00 0.00 0.00 0.00"><tspan stroke="#464646" stroke-width="0.3">−</tspan>1000</text>
<text transform="translate(15.75 178.50) rotate(0.05) scale(0.88 1)" x="-0.40 6.88 13.41 19.94 26.48" y="-0.01 0.00 0.00 0.00 0.00"><tspan stroke="#464646" stroke-width="0.3">−</tspan>1500</text>
<text transform="translate(386.85 178.50) rotate(0.05) scale(0.88 1)" x="0.51 6.88 13.41 19.94 26.48" y="-0.01 0.00 0.00 0.00 0.00"><tspan stroke="#464646" stroke-width="0.3">−</tspan>1500</text>
<text class="m" transform="translate(195.2 247.75) rotate(0.05)" xml:space="preserve">M [MeV]</text>
<text class="m" transform="translate(8.8 145) rotate(-90.05)" xml:space="preserve">δm [MeV]</text>
</g>
</svg></body></html>
